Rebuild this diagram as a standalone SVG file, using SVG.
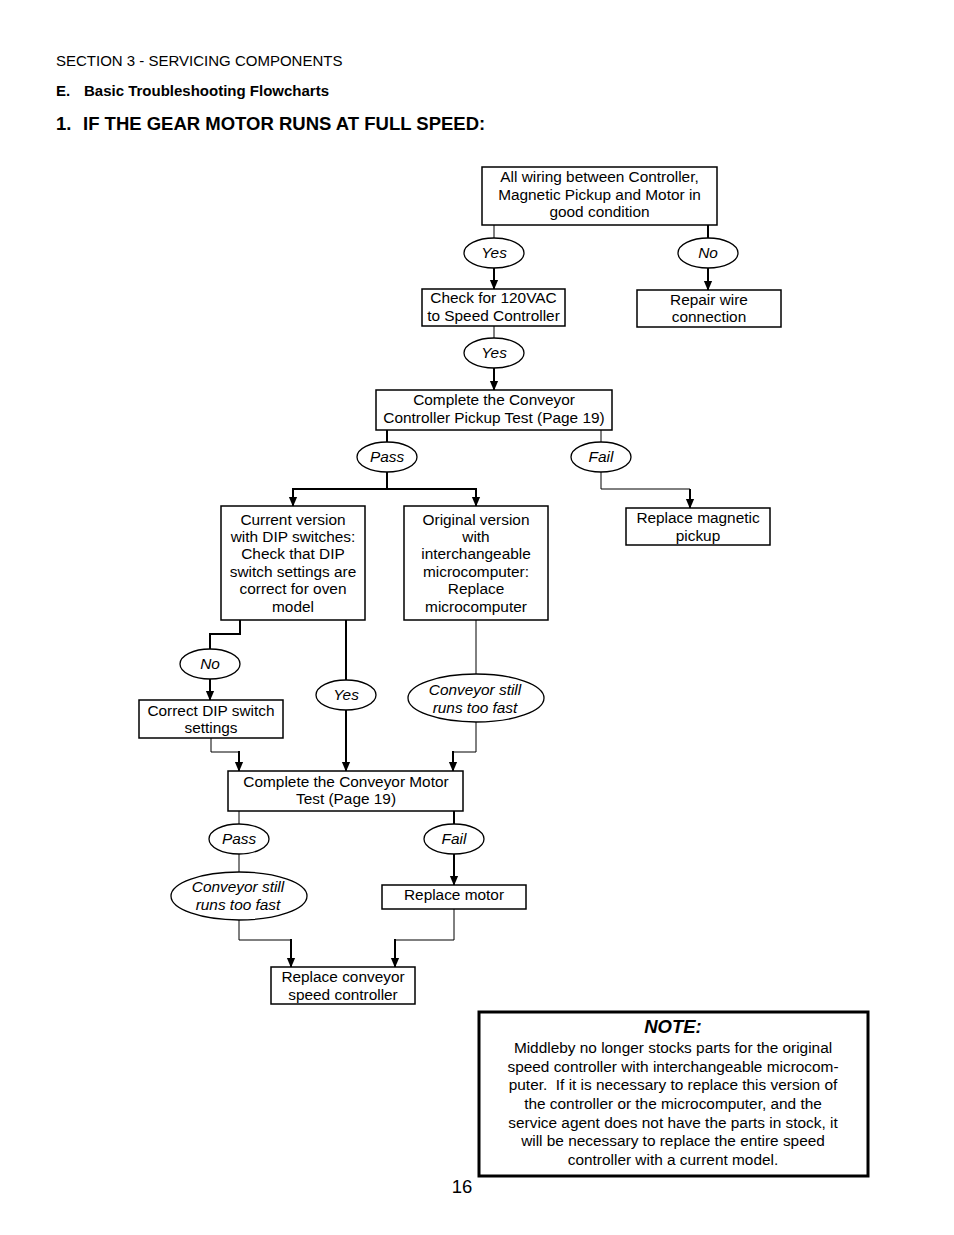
<svg xmlns="http://www.w3.org/2000/svg" width="954" height="1235" viewBox="0 0 954 1235">
<style>
text{font-family:"Liberation Sans",Arial,sans-serif;fill:#000}
.t{font-size:15.4px;text-anchor:middle}
.i{font-size:15.4px;text-anchor:middle;font-style:italic}
.box{fill:#fff;stroke:#000;stroke-width:1.5}
.ell{fill:#fff;stroke:#000;stroke-width:1.3}
.c{fill:none;stroke:#000;stroke-width:2}
.th{fill:none;stroke:#000;stroke-width:1}
</style>
<defs>
<marker id="b" markerUnits="userSpaceOnUse" markerWidth="10" markerHeight="12" refX="11" refY="5" orient="auto" viewBox="0 0 12 10">
<path d="M0,0 L12,5 L0,10 Z" fill="#000"/>
</marker>
</defs>

<text x="56" y="66" font-size="15">SECTION 3 - SERVICING COMPONENTS</text>
<text x="56" y="96" font-size="15" font-weight="bold">E.</text>
<text x="84" y="96" font-size="15" font-weight="bold">Basic Troubleshooting Flowcharts</text>
<text x="56" y="130" font-size="18.5" font-weight="bold">1.</text>
<text x="83" y="130" font-size="18.5" font-weight="bold">IF THE GEAR MOTOR RUNS AT FULL SPEED:</text>

<g id="connectors">
<path class="th" d="M494,225 V238"/>
<path class="c" d="M494,268 V289" marker-end="url(#b)"/>
<path class="c" d="M708,225 V238"/>
<path class="c" d="M708,268 V290" marker-end="url(#b)"/>
<path class="th" d="M494,326 V338"/>
<path class="c" d="M494,368 V390" marker-end="url(#b)"/>
<path class="c" d="M387,430 V442"/>
<path class="c" d="M387,472 V489 M293,489 H476"/>
<path class="c" d="M293,488 V506" marker-end="url(#b)"/>
<path class="c" d="M476,488 V506" marker-end="url(#b)"/>
<path class="th" d="M601,430 V442"/>
<path class="th" d="M601,472 V489 H690"/>
<path class="c" d="M690,489 V508" marker-end="url(#b)"/>
<path class="c" d="M240,620 V634 H210 V649"/>
<path class="c" d="M210,679 V700" marker-end="url(#b)"/>
<path class="c" d="M346,620 V680"/>
<path class="c" d="M346,710 V771" marker-end="url(#b)"/>
<path class="th" d="M476,620 V674"/>
<path class="th" d="M476,722 V752 H453"/>
<path class="c" d="M453,751 V771" marker-end="url(#b)"/>
<path class="th" d="M211,738 V752 H239"/>
<path class="c" d="M239,751 V771" marker-end="url(#b)"/>
<path class="th" d="M239,811 V824"/>
<path class="th" d="M239,854 V872"/>
<path class="th" d="M239,920 V940 H291"/>
<path class="c" d="M291,939 V967" marker-end="url(#b)"/>
<path class="c" d="M454,811 V824"/>
<path class="c" d="M454,854 V885" marker-end="url(#b)"/>
<path class="th" d="M454,909 V940 H395"/>
<path class="c" d="M395,939 V967" marker-end="url(#b)"/>
</g>

<g id="n1"><rect class="box" x="482" y="167" width="235" height="58"/>
<text class="t" x="599.5" y="182">All wiring between Controller,</text>
<text class="t" x="599.5" y="200">Magnetic Pickup and Motor in</text>
<text class="t" x="599.5" y="217">good condition</text></g>

<g id="e_yes1"><ellipse class="ell" cx="494" cy="253" rx="30" ry="15"/><text class="i" x="494" y="258">Yes</text></g>
<g id="e_no1"><ellipse class="ell" cx="708" cy="253" rx="30" ry="15"/><text class="i" x="708" y="258">No</text></g>

<g id="n2"><rect class="box" x="422" y="289" width="143" height="37"/>
<text class="t" x="493.5" y="303">Check for 120VAC</text>
<text class="t" x="493.5" y="321">to Speed Controller</text></g>

<g id="n3"><rect class="box" x="637" y="290" width="144" height="37"/>
<text class="t" x="709" y="305">Repair wire</text>
<text class="t" x="709" y="322">connection</text></g>

<g id="e_yes2"><ellipse class="ell" cx="494" cy="353" rx="30" ry="15"/><text class="i" x="494" y="358">Yes</text></g>

<g id="n4"><rect class="box" x="376" y="390" width="236" height="40"/>
<text class="t" x="494" y="405">Complete the Conveyor</text>
<text class="t" x="494" y="423">Controller Pickup Test (Page 19)</text></g>

<g id="e_pass1"><ellipse class="ell" cx="387" cy="457" rx="30" ry="15"/><text class="i" x="387" y="462">Pass</text></g>
<g id="e_fail1"><ellipse class="ell" cx="601" cy="457" rx="30" ry="15"/><text class="i" x="601" y="462">Fail</text></g>

<g id="n5"><rect class="box" x="626" y="508" width="144" height="37"/>
<text class="t" x="698" y="523">Replace magnetic</text>
<text class="t" x="698" y="541">pickup</text></g>

<g id="n6"><rect class="box" x="221" y="506" width="144" height="114"/>
<text class="t" x="293" y="525">Current version</text>
<text class="t" x="293" y="542">with DIP switches:</text>
<text class="t" x="293" y="559">Check that DIP</text>
<text class="t" x="293" y="577">switch settings are</text>
<text class="t" x="293" y="594">correct for oven</text>
<text class="t" x="293" y="612">model</text></g>

<g id="n7"><rect class="box" x="404" y="506" width="144" height="114"/>
<text class="t" x="476" y="525">Original version</text>
<text class="t" x="476" y="542">with</text>
<text class="t" x="476" y="559">interchangeable</text>
<text class="t" x="476" y="577">microcomputer:</text>
<text class="t" x="476" y="594">Replace</text>
<text class="t" x="476" y="612">microcomputer</text></g>

<g id="e_no2"><ellipse class="ell" cx="210" cy="664" rx="30" ry="15"/><text class="i" x="210" y="669">No</text></g>
<g id="e_yes3"><ellipse class="ell" cx="346" cy="695" rx="30" ry="15"/><text class="i" x="346" y="700">Yes</text></g>
<g id="e_still1"><ellipse class="ell" cx="476" cy="698" rx="68" ry="24"/>
<text class="i" x="475" y="695">Conveyor still</text>
<text class="i" x="475" y="713">runs too fast</text></g>

<g id="n8"><rect class="box" x="139" y="700" width="144" height="38"/>
<text class="t" x="211" y="716">Correct DIP switch</text>
<text class="t" x="211" y="733">settings</text></g>

<g id="n9"><rect class="box" x="228" y="771" width="235" height="40"/>
<text class="t" x="346" y="787">Complete the Conveyor Motor</text>
<text class="t" x="346" y="804">Test (Page 19)</text></g>

<g id="e_pass2"><ellipse class="ell" cx="239" cy="839" rx="30" ry="15"/><text class="i" x="239" y="844">Pass</text></g>
<g id="e_fail2"><ellipse class="ell" cx="454" cy="839" rx="30" ry="15"/><text class="i" x="454" y="844">Fail</text></g>
<g id="e_still2"><ellipse class="ell" cx="239" cy="896" rx="68" ry="24"/>
<text class="i" x="238" y="892">Conveyor still</text>
<text class="i" x="238" y="910">runs too fast</text></g>

<g id="n10"><rect class="box" x="382" y="885" width="144" height="24"/>
<text class="t" x="454" y="900">Replace motor</text></g>

<g id="n11"><rect class="box" x="271" y="967" width="144" height="37"/>
<text class="t" x="343" y="982">Replace conveyor</text>
<text class="t" x="343" y="1000">speed controller</text></g>

<g id="note"><rect x="479" y="1012" width="389" height="164" fill="#fff" stroke="#000" stroke-width="3"/>
<text x="673" y="1033" font-size="18.5" font-weight="bold" font-style="italic" text-anchor="middle">NOTE:</text>
<text class="t" x="673" y="1053">Middleby no longer stocks parts for the original</text>
<text class="t" x="673" y="1072">speed controller with interchangeable microcom-</text>
<text class="t" x="673" y="1090">puter.&#160; If it is necessary to replace this version of</text>
<text class="t" x="673" y="1109">the controller or the microcomputer, and the</text>
<text class="t" x="673" y="1128">service agent does not have the parts in stock, it</text>
<text class="t" x="673" y="1146">will be necessary to replace the entire speed</text>
<text class="t" x="673" y="1165">controller with a current model.</text></g>

<text x="462" y="1193" font-size="18.5" text-anchor="middle">16</text>
</svg>
